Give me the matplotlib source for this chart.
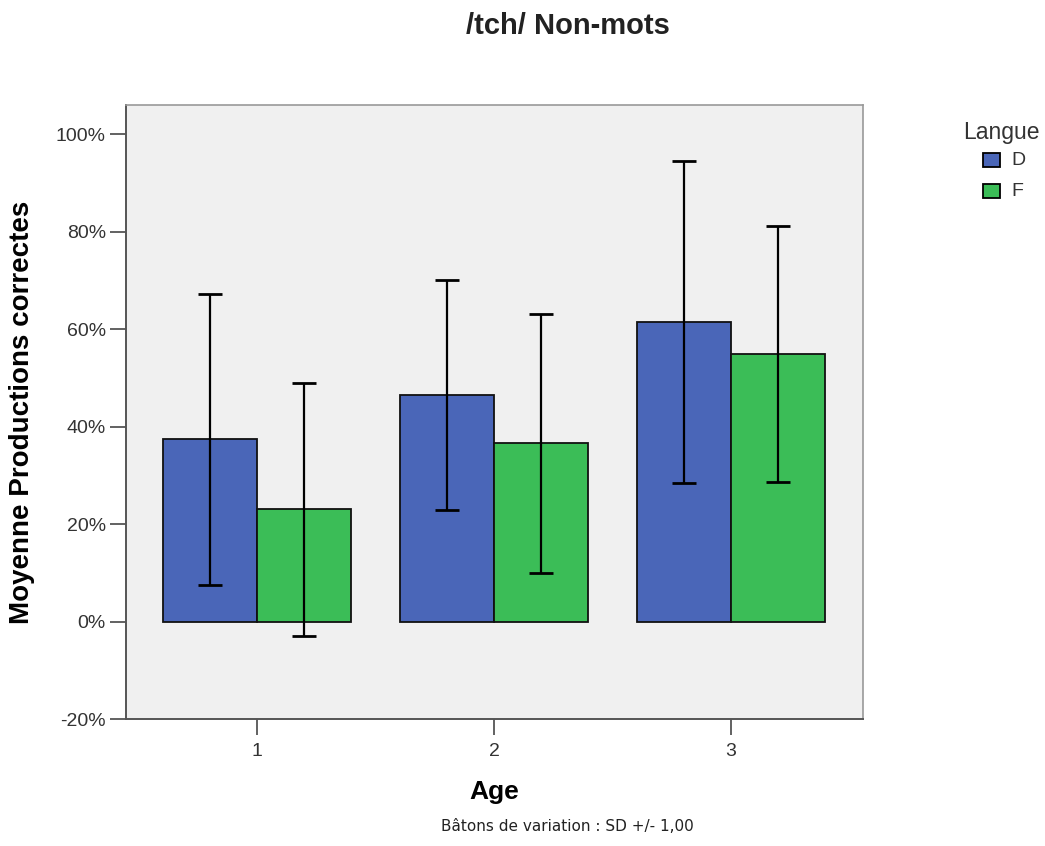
import numpy as np
import matplotlib.pyplot as plt
from matplotlib.patches import Rectangle

plt.rcParams['font.family'] = ['Liberation Sans', 'DejaVu Sans']

ages     = ['1', '2', '3']
langues  = ['D', 'F']
mean_D   = [37.4, 46.5, 61.5]
mean_F   = [23.0, 36.6, 54.9]
sd_D     = [29.8, 23.6, 33.0]
sd_F     = [26.0, 26.6, 26.3]
y_ticks  = [-20, 0, 20, 40, 60, 80, 100]

col_D = '#4a66b8'
col_F = '#3bbd57'

W, H = 1045, 846
fig = plt.figure(figsize=(W / 100, H / 100), dpi=100)
ax = fig.add_axes([126 / W, 1 - 719 / H, 737 / W, 614 / H])
ax.set_facecolor('#f0f0f0')

x = np.arange(1, len(ages) + 1)
w = 0.397
err_kw = dict(ecolor='black', elinewidth=1.6, capsize=8.5, capthick=2)
ax.bar(x - w / 2, mean_D, width=w, color=col_D, edgecolor='#111111',
       linewidth=1.3, yerr=sd_D, error_kw=err_kw, zorder=2)
ax.bar(x + w / 2, mean_F, width=w, color=col_F, edgecolor='#111111',
       linewidth=1.3, yerr=sd_F, error_kw=err_kw, zorder=2)

ax.set_xlim(0.447, 3.557)
ax.set_ylim(-20, 106)
ax.set_xticks(x)
ax.set_xticklabels(ages, fontsize=14, color='#333333')
ax.set_yticks(y_ticks)
ax.set_yticklabels([f'{t}%' for t in y_ticks], fontsize=14, color='#333333')
ax.tick_params(axis='both', length=11.5, width=1.3, color='#555555', direction='out')
ax.tick_params(axis='x', pad=6)
ax.tick_params(axis='y', pad=3)
for s in ['left', 'bottom']:
    ax.spines[s].set_color('#555555')
    ax.spines[s].set_linewidth(1.4)
for s in ['top', 'right']:
    ax.spines[s].set_color('#999999')
    ax.spines[s].set_linewidth(1.2)

ax.set_ylabel('Moyenne Productions correctes', fontsize=20, fontweight='bold', va='center')
ax.yaxis.set_label_coords((22 - 126) / 737, 0.5)
ax.set_xlabel('Age', fontsize=19, fontweight='bold', va='center')
ax.xaxis.set_label_coords(0.5, (719 - 792) / 614)

fig.text(567.5 / W, 1 - 26 / H, '/tch/ Non-mots', ha='center', va='center',
         fontsize=21, fontweight='bold', color='#222222')
fig.text(567.5 / W, 1 - 826 / H, 'Bâtons de variation : SD +/- 1,00', ha='center',
         va='center', fontsize=11, color='#222222', family='DejaVu Sans')

# legend
fig.text(1040 / W, 1 - 132 / H, 'Langue', ha='right', va='center',
         fontsize=16.5, color='#333333')
for i, (lab, col) in enumerate(zip(langues, [col_D, col_F])):
    yc = 160 + i * 31
    fig.add_artist(Rectangle((983 / W, 1 - (yc + 7) / H), 17 / W, 14 / H,
                             facecolor=col, edgecolor='black', linewidth=1.3,
                             transform=fig.transFigure))
    fig.text(1011 / W, 1 - yc / H, lab, ha='left', va='center',
             fontsize=14, color='#333333')

plt.savefig('out.png', dpi=100)
plt.close()
